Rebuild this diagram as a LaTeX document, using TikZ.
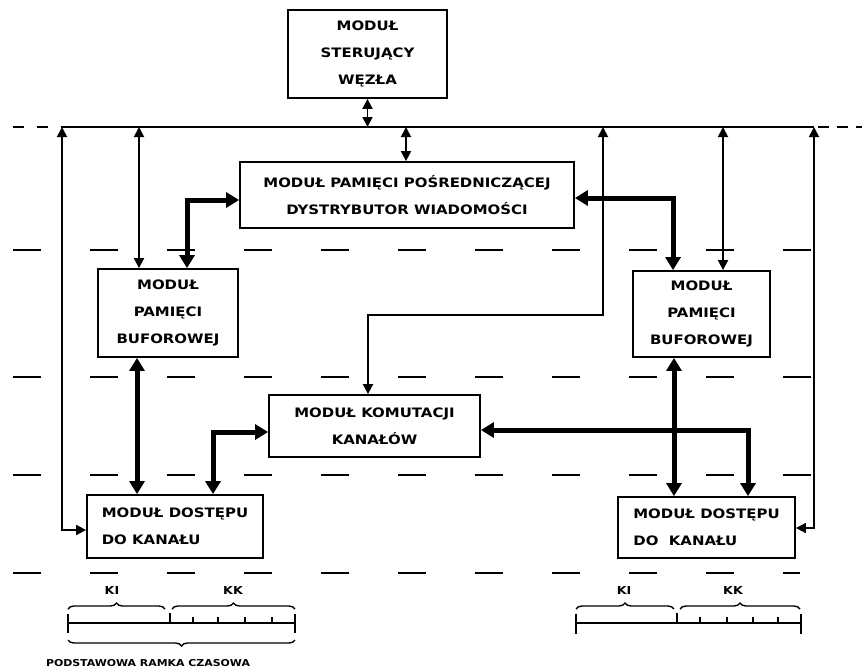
\documentclass[tikz,border=0pt]{standalone}
\usepackage{fontspec}
\newfontfamily\hand[FakeStretch=1.15]{DejaVu Sans}
\usetikzlibrary{arrows.meta,decorations.pathreplacing,calc}
\tikzset{
  box/.style={draw, line width=1.8pt, inner sep=0pt, align=center, font=\hand\bfseries\fontsize{13}{27}\selectfont},
  thinc/.style={line width=1.8pt, {Triangle[length=10pt,width=10pt]}-{Triangle[length=10pt,width=10pt]}},
  thickc/.style={line width=5pt, {Triangle[length=13pt,width=15pt]}-{Triangle[length=13pt,width=15pt]}, line join=miter},
  level/.style={line width=1.8pt, dash pattern=on 28pt off 49pt},
  scaleline/.style={line width=1.6pt},
  brc/.style={line width=1.4pt, decorate, decoration={brace, amplitude=6pt}},
  lbl/.style={font=\hand\bfseries\fontsize{11}{13}\selectfont}
}
\begin{document}
\begin{tikzpicture}[x=1pt,y=-1pt]
\useasboundingbox (0,0) rectangle (862,670);
% level lines
\draw[level] (13,250) -- (814,250);
\draw[level] (13,377) -- (814,377);
\draw[level] (13,475) -- (814,475);
\draw[level] (13,573) -- (800,573);
% bus
\coordinate (bus) at (0,127);
\draw[line width=1.8pt] (62,127) -- (814,127);
\draw[line width=1.8pt, dash pattern=on 11pt off 13pt] (13,127) -- (62,127);
\draw[line width=1.8pt, dash pattern=on 11pt off 8pt] (818,127) -- (862,127);
% boxes
\node[box, minimum width=159pt, minimum height=88pt] (ctrl) at (367.5,54) {MODUŁ\\STERUJĄCY\\WĘZŁA};
\node[box, minimum width=334pt, minimum height=66pt] (mid) at (407,195) {MODUŁ PAMIĘCI POŚREDNICZĄCEJ\\DYSTRYBUTOR WIADOMOŚCI};
\node[box, minimum width=140pt, minimum height=88pt] (lbuf) at (168,313) {MODUŁ\\PAMIĘCI\\BUFOROWEJ};
\node[box, minimum width=137pt, minimum height=86pt] (rbuf) at (701.5,314) {MODUŁ\\PAMIĘCI\\BUFOROWEJ};
\node[box, minimum width=211pt, minimum height=62pt] (kom) at (374.5,426) {MODUŁ KOMUTACJI\\KANAŁÓW};
\node[box, minimum width=176pt, minimum height=63pt, align=left] (lacc) at (175,526.5) {MODUŁ DOSTĘPU\\DO KANAŁU};
\node[box, minimum width=177pt, minimum height=61pt, align=left] (racc) at (706.5,527.5) {MODUŁ DOSTĘPU\\DO \ KANAŁU};
% thin connectors
\draw[thinc] (ctrl.south) -- (ctrl.south |- bus);
\draw[thinc] (bus -| 406,0) -- (mid.north -| 406,0);
\draw[thinc] (bus -| 62,0) -- (62,530) -- (lacc.west |- 0,530);
\draw[thinc] (bus -| 139,0) -- (lbuf.north -| 139,0);
\draw[thinc, line join=miter] (bus -| 603,0) -- (603,315) -- (368,315) -- (kom.north -| 368,0);
\draw[thinc] (bus -| 723,0) -- (rbuf.north -| 723,0);
\draw[thinc] (bus -| 814,0) -- (814,528) -- (racc.east |- 0,528);
% thick connectors
\draw[thickc] (mid.west |- 0,200) -- (187,200) -- (lbuf.north -| 187,0);
\draw[thickc] (lbuf.south -| 137,0) -- (lacc.north -| 137,0);
\draw[thickc] (kom.west |- 0,432) -- (213,432) -- (lacc.north -| 213,0);
\draw[thickc] (mid.east |- 0,198) -- (673,198) -- (rbuf.north -| 673,0);
\draw[thickc] (rbuf.south -| 674,0) -- (racc.north -| 674,0);
\draw[thickc] (kom.east |- 0,430) -- (748,430) -- (racc.north -| 748,0);
% left time frame
\draw[scaleline] (68,623) -- (295,623);
\draw[scaleline] (68,614) -- (68,633) (295,614) -- (295,633);
\draw[scaleline] (170,613) -- (170,623);
\foreach \t in {193,218,245,272} \draw[scaleline] (\t,617) -- (\t,623);
\draw[brc] (68,609) -- (165,609);
\draw[brc] (172,609) -- (295,609);
\node[lbl] (ki1) at (112,590) {KI};
\node[lbl] (kk1) at (233,590) {KK};
\draw[brc] (295,640) -- (68,640);
\node[lbl, font=\hand\bfseries\fontsize{9.5}{12}\selectfont] (ramka) at (148,663) {PODSTAWOWA RAMKA CZASOWA};
% right time frame
\draw[scaleline] (576,623) -- (801,623);
\draw[scaleline] (576,614) -- (576,634) (801,614) -- (801,634);
\draw[scaleline] (677,613) -- (677,623);
\foreach \t in {700,727,753,778} \draw[scaleline] (\t,617) -- (\t,623);
\draw[brc] (576,609) -- (674,609);
\draw[brc] (680,609) -- (800,609);
\node[lbl] (ki2) at (624,590) {KI};
\node[lbl] (kk2) at (733,590) {KK};
\end{tikzpicture}
\end{document}
